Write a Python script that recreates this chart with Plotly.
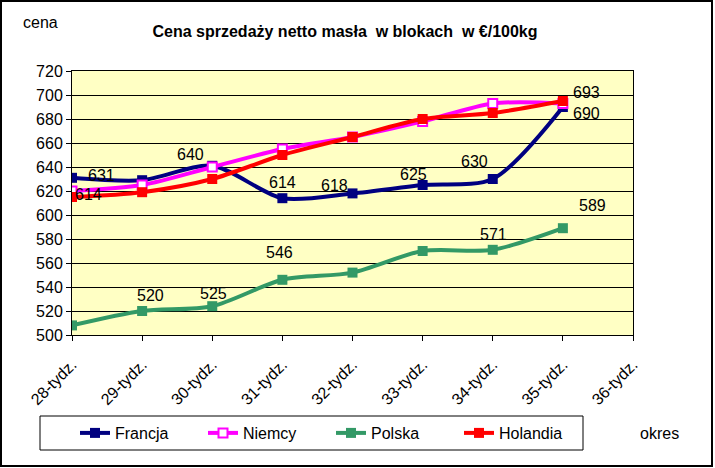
import plotly.graph_objects as go

weeks = ["28-tydz.", "29-tydz.", "30-tydz.", "31-tydz.", "32-tydz.", "33-tydz.", "34-tydz.", "35-tydz.", "36-tydz."]
francja = [631, 629, 641, 614, 618, 625, 630, 690]
niemcy = [620, 625, 640, 655, 665, 678, 693, 693]
polska = [508, 520, 524, 546, 552, 570, 571, 589]
holandia = [615, 619, 630, 650, 665, 680, 685, 695]

# data labels: (index, text)
labels_francja = [(0, "631"), (2, "640"), (3, "614"), (4, "618"), (5, "625"), (6, "630"), (7, "690")]
labels_holandia = [(0, "614"), (7, "693")]
labels_polska = [(1, "520"), (2, "525"), (3, "546"), (6, "571"), (7, "589")]

# label pixel offsets (styling)
off_francja = [(29, 2), (-22, 11), (0, 16), (-18, 8), (-9, 11), (-18, 18), (24, -6)]
off_holandia = [(16, 3), (24, 9)]
off_polska = [(8, 16), (1, 13), (-3, 27), (1, 15), (30, 23)]

FONT = "Arial, Liberation Sans, sans-serif"
W, H = 715, 468
ML, MR, MT, MB = 72, 82, 71, 133
PW, PH = W - ML - MR, H - MT - MB


def pxx(p):
    return (p - ML) / PW


def pxy(p):
    return (H - MB - p) / PH


fig = go.Figure()
series = [
    ("Francja", francja, "#000080", dict(symbol="square", size=10, color="#000080")),
    ("Niemcy", niemcy, "#FF00FF", dict(symbol="square", size=9, color="white", line=dict(color="#FF00FF", width=2))),
    ("Polska", polska, "#339966", dict(symbol="square", size=10, color="#339966")),
    ("Holandia", holandia, "#FF0000", dict(symbol="square", size=10, color="#FF0000")),
]
for name, vals, col, mk in series:
    fig.add_trace(go.Scatter(
        x=list(range(len(vals))), y=vals, name=name, mode="lines+markers",
        line=dict(color=col, width=4, shape="spline", smoothing=0.8),
        marker=mk,
    ))

annos = []
for data, labs, offs in [(francja, labels_francja, off_francja),
                         (holandia, labels_holandia, off_holandia),
                         (polska, labels_polska, off_polska)]:
    for (i, t), (dx, dy) in zip(labs, offs):
        annos.append(dict(x=i, y=data[i], xref="x", yref="y", text=t, showarrow=False,
                          xanchor="center", yanchor="middle",
                          xshift=dx, yshift=dy, font=dict(family=FONT, size=16, color="black")))

annos.append(dict(x=pxx(40), y=pxy(23), xref="paper", yref="paper", text="cena", showarrow=False,
                  xanchor="center", yanchor="middle", font=dict(family=FONT, size=16, color="black")))
annos.append(dict(x=pxx(659), y=pxy(433), xref="paper", yref="paper", text="okres", showarrow=False,
                  xanchor="center", yanchor="middle", font=dict(family=FONT, size=16, color="black")))

shapes = [
    dict(type="rect", xref="paper", yref="paper", x0=pxx(1), x1=pxx(712), y0=pxy(466), y1=pxy(1),
         line=dict(color="black", width=2), layer="below"),
    dict(type="rect", xref="paper", yref="paper", x0=pxx(40), x1=pxx(583), y0=pxy(450), y1=pxy(416),
         line=dict(color="black", width=1)),
]

fig.update_layout(
    width=W, height=H,
    margin=dict(l=ML, r=MR, t=MT, b=MB, autoexpand=False),
    paper_bgcolor="white", plot_bgcolor="#FFFFC4",
    font=dict(family=FONT, color="black"),
    title=dict(text="<b>Cena sprzedaży netto masła  w blokach  w €/100kg</b>", x=345 / W, xanchor="center",
               y=1 - 31 / H, yanchor="middle", font=dict(family=FONT, size=16, color="black")),
    xaxis=dict(range=[0, 8], tickmode="array", tickvals=list(range(len(weeks))), ticktext=weeks,
               tickangle=-45, ticks="outside", ticklen=5, tickcolor="black", showgrid=False,
               showline=True, linecolor="black", linewidth=1, mirror=True, zeroline=False,
               ticklabelstandoff=8, automargin=False,
               tickfont=dict(family=FONT, size=16, color="black")),
    yaxis=dict(range=[500, 720], dtick=20, ticks="outside", ticklen=5, tickcolor="black",
               showgrid=True, gridcolor="black", gridwidth=1, showline=True, linecolor="black",
               linewidth=1, mirror=True, zeroline=False, automargin=False,
               tickfont=dict(family=FONT, size=16, color="black")),
    legend=dict(orientation="h", xref="container", yref="container", x=75 / W, y=1 - 433 / H,
                xanchor="left", yanchor="middle", bgcolor="rgba(0,0,0,0)", borderwidth=0,
                entrywidth=83, entrywidthmode="pixels", font=dict(family=FONT, size=16, color="black")),
    annotations=annos, shapes=shapes,
)

fig.write_html("out.html", config={"displayModeBar": False},
               post_script="document.body.style.margin='0';document.body.style.padding='0';")
